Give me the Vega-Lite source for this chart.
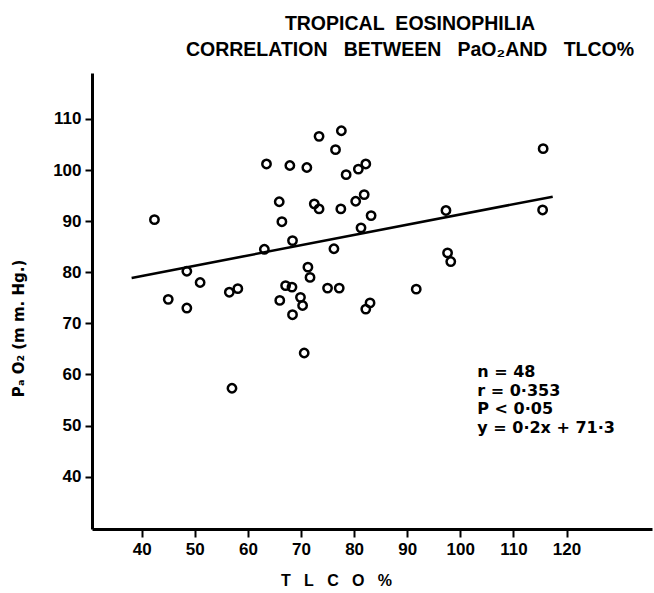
{
  "$schema": "https://vega.github.io/schema/vega-lite/v6.json",
  "width": 560,
  "height": 456,
  "autosize": {"type": "none"},
  "padding": {"left": 92, "top": 73, "right": 2, "bottom": 64},
  "background": "white",
  "config": {"view": {"stroke": null}, "font": "Liberation Sans"},
  "title": {
    "text": ["TROPICAL\u00a0 EOSINOPHILIA", "CORRELATION\u00a0\u00a0 BETWEEN\u00a0\u00a0 PaO\u2082AND\u00a0\u00a0 TLCO%"],
    "fontSize": 19.5,
    "fontWeight": "bold",
    "font": "Liberation Sans",
    "color": "black",
    "anchor": "middle",
    "dx": 38,
    "offset": 13,
    "lineHeight": 26
  },
  "datasets": {
    "points": [
      {"tlco": 42.4, "pao2": 90.3}, {"tlco": 45.0, "pao2": 74.7}, {"tlco": 48.5, "pao2": 80.2},
      {"tlco": 48.5, "pao2": 73.0}, {"tlco": 51.0, "pao2": 78.0}, {"tlco": 56.5, "pao2": 76.1},
      {"tlco": 58.1, "pao2": 76.8}, {"tlco": 57.0, "pao2": 57.3}, {"tlco": 63.1, "pao2": 84.5},
      {"tlco": 63.5, "pao2": 101.2}, {"tlco": 67.9, "pao2": 100.9}, {"tlco": 71.1, "pao2": 100.5},
      {"tlco": 65.9, "pao2": 93.8}, {"tlco": 66.4, "pao2": 89.9}, {"tlco": 68.4, "pao2": 86.2},
      {"tlco": 73.4, "pao2": 106.6}, {"tlco": 77.6, "pao2": 107.7}, {"tlco": 76.5, "pao2": 104.0},
      {"tlco": 78.5, "pao2": 99.1}, {"tlco": 80.8, "pao2": 100.2}, {"tlco": 82.2, "pao2": 101.2},
      {"tlco": 72.5, "pao2": 93.4}, {"tlco": 73.4, "pao2": 92.4}, {"tlco": 77.5, "pao2": 92.4},
      {"tlco": 80.3, "pao2": 93.9}, {"tlco": 81.9, "pao2": 95.2}, {"tlco": 83.2, "pao2": 91.1},
      {"tlco": 81.3, "pao2": 88.7}, {"tlco": 76.2, "pao2": 84.6}, {"tlco": 71.3, "pao2": 81.0},
      {"tlco": 71.7, "pao2": 79.0}, {"tlco": 67.1, "pao2": 77.4}, {"tlco": 68.3, "pao2": 77.1},
      {"tlco": 75.0, "pao2": 76.9}, {"tlco": 77.2, "pao2": 76.9}, {"tlco": 66.0, "pao2": 74.5},
      {"tlco": 69.9, "pao2": 75.1}, {"tlco": 70.3, "pao2": 73.5}, {"tlco": 82.2, "pao2": 72.8},
      {"tlco": 83.0, "pao2": 74.0}, {"tlco": 68.4, "pao2": 71.7}, {"tlco": 70.6, "pao2": 64.2},
      {"tlco": 115.6, "pao2": 104.2}, {"tlco": 115.5, "pao2": 92.2}, {"tlco": 97.3, "pao2": 92.1},
      {"tlco": 97.6, "pao2": 83.8}, {"tlco": 98.2, "pao2": 82.1}, {"tlco": 91.7, "pao2": 76.7}
    ],
    "fit": [
      {"tlco": 38.1, "pao2": 78.9},
      {"tlco": 117.4, "pao2": 94.8}
    ],
    "notes": [
      {"tlco": 103.2, "pao2": 60.4, "label": "n = 48"},
      {"tlco": 103.2, "pao2": 56.85, "label": "r = 0·353"},
      {"tlco": 103.2, "pao2": 53.2, "label": "P < 0·05"},
      {"tlco": 103.2, "pao2": 49.5, "label": "y = 0·2x + 71·3"}
    ]
  },
  "encoding": {
    "x": {
      "field": "tlco",
      "type": "quantitative",
      "scale": {"domain": [30.64, 136.1], "nice": false, "zero": false},
      "axis": {
        "values": [40, 50, 60, 70, 80, 90, 100, 110, 120],
        "grid": false,
        "domainColor": "black",
        "domainWidth": 3,
        "tickColor": "black",
        "tickWidth": 2,
        "tickSize": 8,
        "labelFont": "Liberation Sans",
        "labelFontSize": 17,
        "labelFontWeight": "bold",
        "labelColor": "black",
        "labelPadding": 4,
        "labelFlush": false,
        "title": "T\u00a0\u00a0 L\u00a0\u00a0 C\u00a0\u00a0 O\u00a0\u00a0 %",
        "titleFont": "Liberation Sans",
        "titleFontSize": 16,
        "titleFontWeight": "bold",
        "titleColor": "black",
        "titleAlign": "center",
        "titleBaseline": "middle",
        "titleX": 244,
        "titleY": 51
      }
    },
    "y": {
      "field": "pao2",
      "type": "quantitative",
      "scale": {"domain": [29.76, 119.0], "nice": false, "zero": false},
      "axis": {
        "values": [40, 50, 60, 70, 80, 90, 100, 110],
        "grid": false,
        "domainColor": "black",
        "domainWidth": 3,
        "tickColor": "black",
        "tickWidth": 2,
        "tickSize": 7,
        "labelFont": "Liberation Sans",
        "labelFontSize": 17,
        "labelFontWeight": "bold",
        "labelColor": "black",
        "labelPadding": 4,
        "labelFlush": false,
        "title": "P\u2090 O\u2082 (m m. Hg.)",
        "titleFont": "DejaVu Sans",
        "titleFontSize": 15,
        "titleFontWeight": "bold",
        "titleColor": "black",
        "titleAngle": 270,
        "titleAlign": "center",
        "titleBaseline": "middle",
        "titleX": -74,
        "titleY": 255
      }
    }
  },
  "layer": [
    {
      "data": {"name": "fit"},
      "mark": {"type": "line", "color": "black", "strokeWidth": 2.5}
    },
    {
      "data": {"name": "points"},
      "mark": {"type": "point", "shape": "circle", "filled": false, "stroke": "black", "strokeWidth": 2.5, "size": 70, "opacity": 1}
    },
    {
      "data": {"name": "notes"},
      "mark": {"type": "text", "align": "left", "baseline": "middle", "fontSize": 16, "fontWeight": "bold", "font": "DejaVu Sans", "color": "black"},
      "encoding": {"text": {"field": "label", "type": "nominal"}}
    }
  ]
}
